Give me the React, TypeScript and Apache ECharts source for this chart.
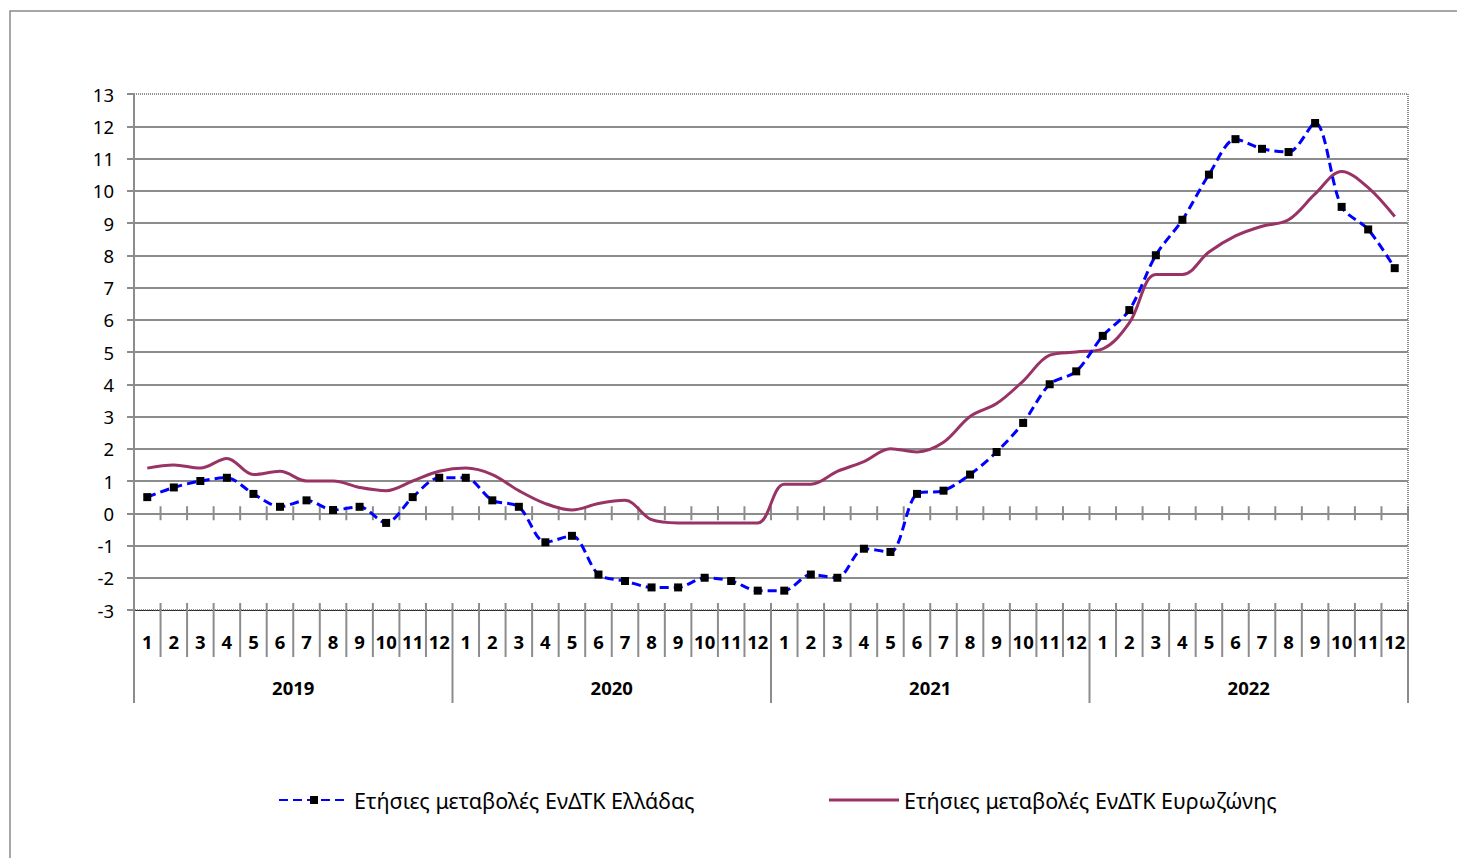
import React, { useEffect, useRef } from "react";
import * as echarts from "echarts";

const years = ["2019", "2020", "2021", "2022"];
const months = ["1", "2", "3", "4", "5", "6", "7", "8", "9", "10", "11", "12"];
const categories: string[] = years.flatMap((y) => months.map((m) => `${y}-${m}`));

const greece = [
  0.5, 0.8, 1.0, 1.1, 0.6, 0.2, 0.4, 0.1, 0.2, -0.3, 0.5, 1.1,
  1.1, 0.4, 0.2, -0.9, -0.7, -1.9, -2.1, -2.3, -2.3, -2.0, -2.1, -2.4,
  -2.4, -1.9, -2.0, -1.1, -1.2, 0.6, 0.7, 1.2, 1.9, 2.8, 4.0, 4.4,
  5.5, 6.3, 8.0, 9.1, 10.5, 11.6, 11.3, 11.2, 12.1, 9.5, 8.8, 7.6,
];
const eurozone = [
  1.4, 1.5, 1.4, 1.7, 1.2, 1.3, 1.0, 1.0, 0.8, 0.7, 1.0, 1.3,
  1.4, 1.2, 0.7, 0.3, 0.1, 0.3, 0.4, -0.2, -0.3, -0.3, -0.3, -0.3,
  0.9, 0.9, 1.3, 1.6, 2.0, 1.9, 2.2, 3.0, 3.4, 4.1, 4.9, 5.0,
  5.1, 5.9, 7.4, 7.4, 8.1, 8.6, 8.9, 9.1, 9.9, 10.6, 10.1, 9.2,
];
const seriesNames = [
  "Ετήσιες μεταβολές ΕνΔΤΚ Ελλάδας",
  "Ετήσιες μεταβολές ΕνΔΤΚ Ευρωζώνης",
];

const FONT = "'Noto Sans', 'DejaVu Sans', sans-serif";
const GRID_GRAY = "#8c8c8c";

export default function App() {
  const ref = useRef<HTMLDivElement>(null);
  useEffect(() => {
    document.body.style.margin = "0";
    const chart = echarts.init(ref.current!, null, { renderer: "svg" });
    const n = categories.length;
    chart.setOption({
      animation: false,
      backgroundColor: "#fff",
      textStyle: { fontFamily: FONT },
      graphic: [
        {
          type: "rect",
          shape: { x: 10, y: 11, width: 1470, height: 880 },
          style: { fill: "none", stroke: "#8a8a8a", lineWidth: 1.5 },
          silent: true,
        },
      ],
      grid: {
        left: 134,
        right: 49,
        top: 94,
        bottom: 248,
        show: true,
        borderColor: "#222",
        borderWidth: 1,
        borderType: "dotted",
        backgroundColor: "transparent",
      },
      legend: [
        {
          data: [seriesNames[0]],
          left: 278,
          top: 789,
          padding: 0,
          itemWidth: 70,
          itemHeight: 10,
          itemGap: 0,
          textStyle: { fontSize: 21.5, color: "#000", fontFamily: FONT },
        },
        {
          data: [{ name: seriesNames[1], icon: "rect" }],
          left: 829,
          top: 789,
          padding: 0,
          itemWidth: 70,
          itemHeight: 3,
          itemGap: 0,
          textStyle: { fontSize: 21.5, color: "#000", fontFamily: FONT },
        },
      ],
      xAxis: [
        {
          type: "category",
          data: categories,
          boundaryGap: true,
          axisLine: { show: true, onZero: false, lineStyle: { color: "#222", width: 1, type: "dotted" } },
          axisTick: { show: false },
          axisLabel: {
            interval: 0,
            margin: 22,
            fontSize: 18.5,
            fontWeight: "bold",
            color: "#000",
            formatter: (v: string) => v.split("-")[1],
          },
          splitLine: { show: false },
        },
        {
          type: "category",
          data: years,
          position: "bottom",
          boundaryGap: true,
          axisLine: { show: false, onZero: false },
          axisTick: { show: false },
          axisLabel: { interval: 0, margin: 68, fontSize: 18.5, fontWeight: "bold", color: "#000" },
          splitLine: { show: false },
        },
      ],
      yAxis: {
        type: "value",
        min: -3,
        max: 13,
        interval: 1,
        axisLine: { show: true, lineStyle: { color: GRID_GRAY, width: 2 } },
        axisTick: { show: true, length: 7, lineStyle: { color: GRID_GRAY, width: 2 } },
        axisLabel: { fontSize: 18.5, color: "#000", margin: 20 },
        splitLine: {
          show: true,
          showMinLine: false,
          showMaxLine: false,
          lineStyle: { color: GRID_GRAY, width: 2 },
        },
      },
      series: [
        {
          type: "custom",
          silent: true,
          clip: false,
          z: 1,
          xAxisIndex: 0,
          yAxisIndex: 0,
          data: [[0, 0]],
          renderItem: (params: any, api: any) => {
            const band = api.size([1, 0])[0];
            const x0 = api.coord([0, 0])[0] - band / 2;
            const yZero = api.coord([0, 0])[1];
            const yBottom = api.coord([0, -3])[1];
            const style = { stroke: GRID_GRAY, lineWidth: 2 };
            const children: any[] = [];
            for (let i = 0; i <= n; i++) {
              const x = x0 + i * band;
              children.push({
                type: "line",
                shape: { x1: x, y1: yZero - 7, x2: x, y2: yZero + 7 },
                style,
              });
              const yearEdge = i % 12 === 0;
              children.push({
                type: "line",
                shape: { x1: x, y1: yBottom - 7, x2: x, y2: yBottom + (yearEdge ? 93 : 47) },
                style,
              });
            }
            return { type: "group", children };
          },
        },
        {
          name: seriesNames[0],
          type: "line",
          data: greece,
          smooth: 0.3,
          symbol: "rect",
          symbolSize: 8,
          showAllSymbol: true,
          z: 3,
          itemStyle: { color: "#000" },
          lineStyle: { color: "#0000ff", width: 3, type: [9, 5] },
        },
        {
          name: seriesNames[1],
          type: "line",
          data: eurozone,
          smooth: 0.35,
          symbol: "none",
          z: 2,
          itemStyle: { color: "#993366" },
          lineStyle: { color: "#993366", width: 3 },
        },
      ],
    });
    return () => chart.dispose();
  }, []);
  return <div ref={ref} style={{ width: 1457, height: 858 }} />;
}
